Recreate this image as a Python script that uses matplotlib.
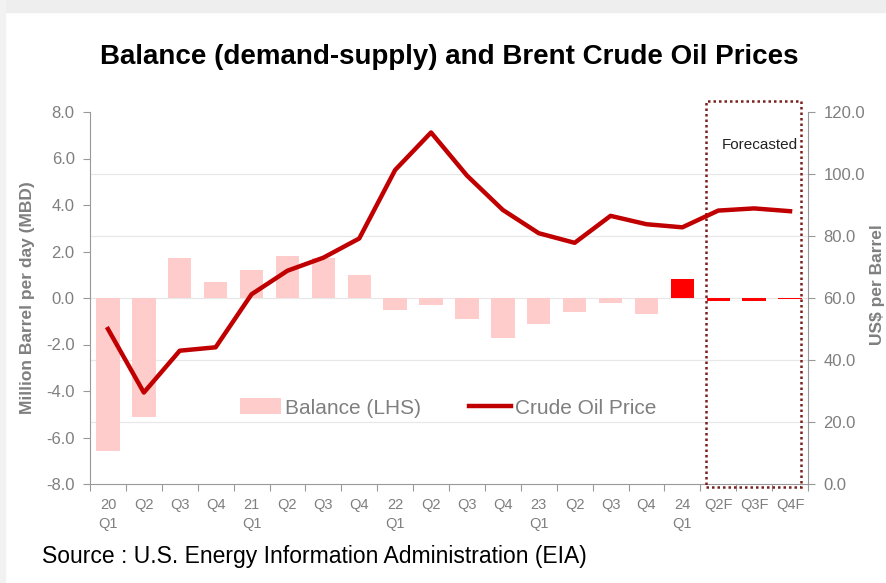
import matplotlib
matplotlib.use("Agg")
import matplotlib.pyplot as plt
from matplotlib import font_manager
from matplotlib.patches import Rectangle
import matplotlib.transforms as mtransforms

names = {f.name for f in font_manager.fontManager.ttflist}
NARROW = 'Liberation Sans Narrow' if 'Liberation Sans Narrow' in names else 'Liberation Sans'
plt.rcParams['font.family'] = [NARROW, 'DejaVu Sans']

categories = ["20\nQ1", "Q2", "Q3", "Q4", "21\nQ1", "Q2", "Q3", "Q4", "22\nQ1", "Q2", "Q3", "Q4",
              "23\nQ1", "Q2", "Q3", "Q4", "24\nQ1", "Q2F", "Q3F", "Q4F"]
balance = [-6.6, -5.1, 1.7, 0.7, 1.2, 1.8, 1.7, 1.0, -0.5, -0.3, -0.9, -1.7,
           -1.1, -0.6, -0.2, -0.7, 0.8, -0.13, -0.13, -0.05]
brent = [50.0, 29.5, 43.0, 44.1, 61.2, 68.8, 73.0, 79.2, 101.3, 113.4, 99.5, 88.4,
         80.9, 77.8, 86.5, 83.8, 82.8, 88.2, 88.9, 88.0]
bar_colors = ["#FFCCCC"] * 16 + ["#FF0000"] * 4
left_ticks = [-8.0, -6.0, -4.0, -2.0, 0.0, 2.0, 4.0, 6.0, 8.0]
right_ticks = [0.0, 20.0, 40.0, 60.0, 80.0, 100.0, 120.0]

GREY = "#7f7f7f"
fig = plt.figure(figsize=(8.86, 5.83), dpi=100)
fig.patch.set_facecolor("white")
# light frame strips like the reference screenshot
fig.add_artist(Rectangle((0, 1 - 12/583), 1, 12/583, transform=fig.transFigure, color="#eeeeee", zorder=-10))
fig.add_artist(Rectangle((0, 0), 5/886, 1, transform=fig.transFigure, color="#f2f2f2", zorder=-10))

ax = fig.add_axes([90/886, 1-484/583, 718/886, 372/583])
ax2 = ax.twinx()

x = list(range(len(categories)))
ax.bar(x, balance, width=0.65, color=bar_colors, zorder=2, label="Balance (LHS)")
ax.set_ylim(-8, 8)
ax.set_xlim(-0.5, len(categories) - 0.5)
ax.set_yticks(left_ticks)
ax.set_yticklabels([f"{v:.1f}" for v in left_ticks])

ax2.plot(x, brent, color="#C00000", lw=3.2, zorder=3, label="Crude Oil Price", solid_joinstyle='round')
ax2.set_ylim(0, 120)
ax2.set_yticks(right_ticks)
ax2.set_yticklabels([f"{v:.1f}" for v in right_ticks])
for v in right_ticks[1:-1]:
    ax.axhline(-8 + v / 120 * 16, color="#e8e8e8", lw=0.9, zorder=0)

ax.patch.set_visible(False)

# x ticks at category boundaries, labels at centers
ax.set_xticks([i - 0.5 for i in range(len(categories) + 1)])
ax.set_xticklabels([])
ax.set_xticks(x, minor=True)
ax.set_xticklabels(categories, minor=True, color=GREY, fontsize=10.5, linespacing=1.45, va='top')
ax.tick_params(axis='x', which='minor', length=0, pad=10)
ax.tick_params(axis='x', which='major', length=5, color="#999999", direction='out')
ax.tick_params(axis='y', length=5, color="#999999", labelsize=12, labelcolor=GREY, pad=6)
ax2.tick_params(axis='y', length=5, color="#999999", labelsize=12, labelcolor=GREY, pad=6)

for a in (ax, ax2):
    a.spines['top'].set_visible(False)
    for s in ('left', 'right', 'bottom'):
        a.spines[s].set_color("#999999")
ax.spines['right'].set_visible(False)
ax2.spines['left'].set_visible(False)
ax2.spines['bottom'].set_visible(False)

ax.set_ylabel("Million Barrel per day (MBD)", fontsize=12.5, fontweight='bold', color=GREY, labelpad=8)
fig.text(885/886, 298/583, "US$ per Barrel", rotation=90, fontsize=12.5, fontweight='bold',
         color=GREY, ha='right', va='center')

fig.text(449/886, 1 - 57/583, "Balance (demand-supply) and Brent Crude Oil Prices", ha='center', va='center',
         fontsize=20, fontweight='bold', color="black")
fig.text(42/886, 1 - 557/583, "Source : U.S. Energy Information Administration (EIA)", ha='left', va='center',
         fontsize=16.5, color="black")

# forecast box
trans = mtransforms.blended_transform_factory(ax.transData, ax.transAxes)
rect = Rectangle((16.65, -0.008), 2.65, 1.038, transform=trans, fill=False, ec="#7B1F1F",
                 ls=(0, (1, 1.2)), lw=1.8, clip_on=False, zorder=5)
ax.add_patch(rect)
ax.text(17.1, 0.912, "Forecasted", transform=trans, fontsize=11, color="#222222", ha='left', va='center')

h1, l1 = ax.get_legend_handles_labels()
h2, l2 = ax2.get_legend_handles_labels()
leg = ax2.legend(h1 + h2, l1 + l2, loc='center', bbox_to_anchor=(448/886, 1 - 408/583),
                 bbox_transform=fig.transFigure, ncol=2, frameon=False, fontsize=15,
                 handlelength=2.0, handleheight=0.8, columnspacing=2.3, handletextpad=0.2)
for t in leg.get_texts():
    t.set_color(GREY)

fig.savefig("out.png", dpi=100)
